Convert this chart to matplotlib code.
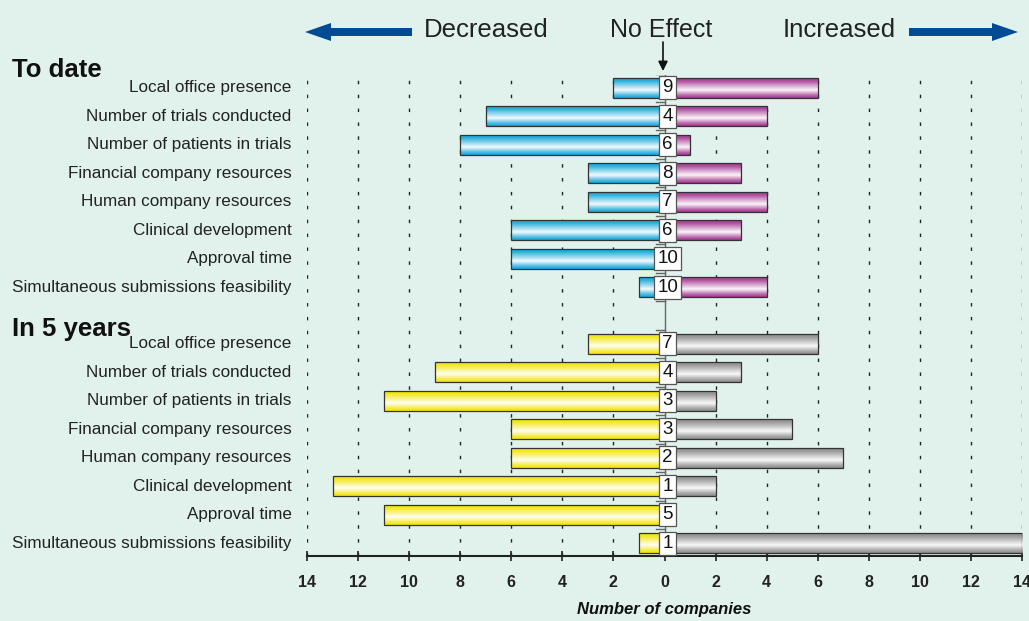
import matplotlib.pyplot as plt
from matplotlib.patches import FancyArrow
from matplotlib import transforms
import numpy as np

# ---------------- data ---------------- #
categories = ["Local office presence", "Number of trials conducted",
              "Number of patients in trials", "Financial company resources",
              "Human company resources", "Clinical development",
              "Approval time", "Simultaneous submissions feasibility"]

todate_decreased = [2, 7, 8, 3, 3, 6, 6, 1]
todate_noeffect = [9, 4, 6, 8, 7, 6, 10, 10]
todate_increased = [6, 4, 1, 3, 4, 3, 0, 4]

years5_decreased = [3, 9, 11, 6, 6, 13, 11, 1]
years5_noeffect = [7, 4, 3, 3, 2, 1, 5, 1]
years5_increased = [6, 3, 2, 5, 7, 2, 0, 14]

xticks = np.arange(-14, 15, 2)

# ---------------- style ---------------- #
BG = "#e1f1ec"
plt.rcParams['font.family'] = ['Liberation Sans', 'DejaVu Sans']


def gradient(base):
    base = np.array(plt.matplotlib.colors.to_rgb(base))
    t = np.linspace(0, 1, 64)
    w = np.interp(t, [0, 0.15, 0.6, 0.85, 1], [0.0, 0.15, 0.95, 0.3, 0.0])
    rgb = base[None, :] * (1 - w[:, None]) + w[:, None]
    return rgb[:, None, :]


def draw_bars(ax, ypos, left, right, cl, cr):
    gl, gr = gradient(cl), gradient(cr)
    h = 0.7
    for y, l, r in zip(ypos, left, right):
        for x0, w, g in ((-l, l, gl), (0, r, gr)):
            if w == 0:
                continue
            rect = ax.barh(y, w, left=x0, height=h, facecolor='none',
                           edgecolor='#333333', linewidth=0.9, zorder=3)[0]
            im = ax.imshow(g, extent=[x0, x0 + w, y + h / 2, y - h / 2],
                           aspect='auto', interpolation='bilinear', zorder=2)
            im.set_clip_path(rect)


fig = plt.figure(figsize=(10.29, 6.21), dpi=100, facecolor=BG)
ax = fig.add_axes([307 / 1029, 1 - 556 / 621, 715 / 1029, (556 - 75) / 621])
ax.set_facecolor(BG)

ypos1 = np.arange(8)
ypos2 = np.arange(8) + 9

draw_bars(ax, ypos1, todate_decreased, todate_increased, '#0ea4d8', '#a2338f')
draw_bars(ax, ypos2, years5_decreased, years5_increased, '#f2e400', '#8a8a8a')

# dotted grid
for x in xticks:
    if x == 0:
        continue
    ax.axvline(x, color='#222222', linestyle=(0, (2.5, 7.5)), linewidth=1.0, zorder=1)

# centre line with small ticks at row boundaries
ax.axvline(0, color='#666666', linewidth=1.0, zorder=1)
for b in list(np.arange(-0.5, 8, 1)) + list(np.arange(8.5, 17, 1)):
    ax.plot([-0.35, 0], [b, b], color='#666666', linewidth=1.0, zorder=1)

# no-effect boxes
for ypos, vals in ((ypos1, todate_noeffect), (ypos2, years5_noeffect)):
    for y, n in zip(ypos, vals):
        ax.text(0.12, y, str(n), ha='center', va='center', fontsize=13.5,
                color='#111111', zorder=6,
                bbox=dict(boxstyle='square,pad=0.16', fc='white', ec='#555555', lw=0.9))

ax.set_xlim(-14, 14)
ax.set_ylim(16.45, -0.45)
ax.set_xticks(xticks)
ax.set_xticklabels([str(abs(v)) for v in xticks], fontsize=11.5, fontweight='bold',
                   color='#222222')
ax.set_yticks(list(ypos1) + list(ypos2))
ax.set_yticklabels(categories + categories, fontsize=12.3, color='#222222', va='center')
up = transforms.ScaledTranslation(0, 2 / 72, fig.dpi_scale_trans)
for lbl in ax.get_yticklabels():
    lbl.set_transform(lbl.get_transform() + up)
ax.tick_params(axis='y', length=0, pad=11)
ax.tick_params(axis='x', direction='inout', length=7, width=1.2, pad=10, color='#222222')
for s in ('top', 'right', 'left'):
    ax.spines[s].set_visible(False)
ax.spines['bottom'].set_color('#222222')
ax.spines['bottom'].set_linewidth(1.5)
ax.set_xlabel("Number of companies", fontsize=12, fontweight='bold', style='italic',
              color='#111111', labelpad=9)

# group headers
trans = transforms.blended_transform_factory(fig.transFigure, ax.transData)
ax.text(12 / 1029, -0.63, "To date", transform=trans, fontsize=18.5,
        fontweight='bold', va='center', ha='left', color='#111111')
ax.text(12 / 1029, 8.47, "In 5 years", transform=trans, fontsize=18.5,
        fontweight='bold', va='center', ha='left', color='#111111')

# top annotation layer in pixel coords
ov = fig.add_axes([0, 0, 1, 1], facecolor='none')
ov.set_xlim(0, 1029)
ov.set_ylim(621, 0)
ov.axis('off')
blue = '#004b93'
ov.add_patch(FancyArrow(412, 32, -107, 0, width=8, head_width=18, head_length=26,
                        length_includes_head=True, color=blue, lw=0))
ov.add_patch(FancyArrow(909, 32, 109, 0, width=8, head_width=18, head_length=26,
                        length_includes_head=True, color=blue, lw=0))
ov.text(424, 30, "Decreased", fontsize=18.5, ha='left', va='center', color='#222222')
ov.text(783, 30, "Increased", fontsize=18.5, ha='left', va='center', color='#222222')
ov.text(661, 30, "No Effect", fontsize=18, ha='center', va='center', color='#222222')
ov.annotate("", xy=(663, 71), xytext=(663, 42),
            arrowprops=dict(arrowstyle='-|>', color='#111111', lw=1.2,
                            mutation_scale=14, shrinkA=0, shrinkB=0))

fig.savefig("out.png", dpi=100, facecolor=BG)
